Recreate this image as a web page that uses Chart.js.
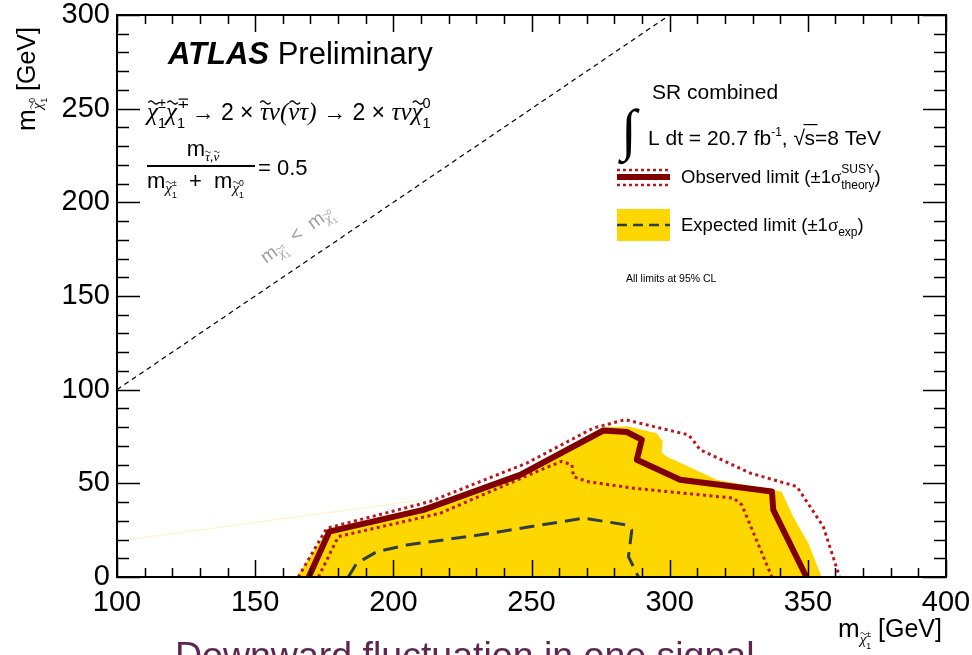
<!DOCTYPE html>
<html>
<head>
<meta charset="utf-8">
<script src="https://cdn.jsdelivr.net/npm/chart.js@4.4.0/dist/chart.umd.min.js"></script>
<style>
  html, body { margin: 0; padding: 0; background: #fff; }
  #wrap { width: 972px; height: 655px; }
</style>
</head>
<body>
<div id="wrap"><canvas id="myChart" width="972" height="655"></canvas></div>
<script>
// tick labels
const xTicks = [100, 150, 200, 250, 300, 350, 400];
const yTicks = [0, 50, 100, 150, 200, 250, 300];

// expected limit +-1 sigma band (upper edge, closes on y=0)
const bandX = [165, 176.5, 211, 246, 276, 285, 295.3, 297.5, 297.1, 298.9, 317, 340.5, 344.7, 350.2, 355];
const bandY = [0, 25.5, 37.5, 56, 80, 80.4, 76.8, 72.4, 66.5, 64.3, 51.9, 45.6, 32.2, 18, 0];

// faint band edge on the left
const faintX = [104.7, 211];
const faintY = [20.1, 41.2];

// expected limit
const expX = [183.7, 186.7, 194.0, 204.8, 231.4, 268.8, 284.5, 286.3, 285.1, 288.7];
const expY = [0, 7.3, 13.5, 17.1, 22.5, 31.4, 27.8, 25.1, 10.9, 0];

// observed limit and theory +-1 sigma
const obsX = [169.4, 176.8, 210.9, 245.9, 276.0, 284.5, 289.9, 288.1, 303.8, 337.0, 337.5, 349.5];
const obsY = [0, 24.2, 35.8, 54.5, 78.2, 77.4, 73.3, 62.6, 51.9, 45.6, 35.8, 0];
const obsUpX = [165.6, 175.9, 213.3, 248.3, 272.4, 283.9, 296.5, 306.8, 309.2, 311.0, 329.1, 346.0, 355.6, 361.5];
const obsUpY = [0, 26, 40.3, 60.8, 79.5, 84, 79.5, 75.9, 71.5, 67.9, 55.5, 48.3, 26.9, 0];
const obsDnX = [172.9, 180.1, 216.9, 251.9, 260.9, 264.6, 265.2, 270.0, 286.9, 323.1, 326.1, 337.0];
const obsDnY = [0, 21.6, 34.0, 56.3, 61.7, 59.9, 53.6, 51.0, 47.4, 42.1, 38.5, 0];

// kinematic limit
const diagX = [100, 300];
const diagY = [100, 300];

const pts = (xs, ys) => xs.map((x, i) => ({ x: x, y: ys[i] }));

const SANS = '"Liberation Sans", Arial, sans-serif';
const SERIF = '"Liberation Serif", "DejaVu Serif", serif';

function tilde(ctx, cx, y, s) {
  const w = s * 0.42, h = s * 0.06;
  ctx.save();
  ctx.strokeStyle = ctx.fillStyle;
  ctx.lineWidth = Math.max(0.9, s * 0.055);
  ctx.beginPath();
  for (let i = 0; i <= 12; i++) {
    const t = i / 12;
    const px = cx - w / 2 + t * w, py = y - h * Math.sin(t * 2 * Math.PI);
    if (i === 0) ctx.moveTo(px, py); else ctx.lineTo(px, py);
  }
  ctx.stroke();
  ctx.restore();
}

// parts: [text, size, dy, family, noAdvance, style, tilde]
function rich(ctx, x, y, parts, align) {
  const fnt = p => (p[5] || '') + ' ' + p[1] + 'px ' + (p[3] || SANS);
  let w = 0;
  parts.forEach(p => { ctx.font = fnt(p); if (!p[4]) w += ctx.measureText(p[0]).width; });
  let cx = align === 'center' ? x - w / 2 : x;
  parts.forEach(p => {
    ctx.font = fnt(p);
    const tw = ctx.measureText(p[0]).width;
    ctx.fillText(p[0], cx, y + (p[2] || 0));
    if (p[6]) tilde(ctx, cx + tw / 2 + p[1] * 0.04, y + (p[2] || 0) - p[1] * 0.7, p[1]);
    if (!p[4]) cx += tw;
  });
  return w;
}

// chi with tilde, sup and sub
const chi = (size, sup, sub, dy) => [
  ['χ', size, dy, SERIF, false, 'italic', true],
  [sup, size * 0.58, dy - size * 0.5, SANS, true],
  [sub, size * 0.58, dy + size * 0.3]
];

const frame = {
  id: 'frame',
  afterDatasetsDraw(chart) {
    const ctx = chart.ctx, a = chart.chartArea;
    const xs = chart.scales.x, ys = chart.scales.y;
    ctx.save();
    ctx.strokeStyle = '#000';
    ctx.lineWidth = 1.5;
    ctx.beginPath();
    for (let v = 100; v <= 400; v += 10) {
      const px = Math.round(xs.getPixelForValue(v)) + 0.5;
      const L = v % 50 === 0 ? 17 : 9;
      ctx.moveTo(px, a.bottom); ctx.lineTo(px, a.bottom - L);
      ctx.moveTo(px, a.top); ctx.lineTo(px, a.top + L);
    }
    for (let v = 0; v <= 300; v += 10) {
      const py = Math.round(ys.getPixelForValue(v)) + 0.5;
      const L = v % 50 === 0 ? 23 : 12;
      ctx.moveTo(a.left, py); ctx.lineTo(a.left + L, py);
      ctx.moveTo(a.right, py); ctx.lineTo(a.right - L, py);
    }
    ctx.stroke();
    ctx.lineWidth = 2;
    ctx.strokeRect(a.left, a.top, a.right - a.left, a.bottom - a.top);
    ctx.restore();
  },
  afterDraw(chart) {
    const ctx = chart.ctx;
    ctx.save();
    ctx.fillStyle = '#000';
    ctx.textBaseline = 'alphabetic';

    // ATLAS label
    rich(ctx, 168, 64, [['ATLAS', 31, 0, SANS, false, 'italic bold'], [' Preliminary', 31]]);

    // process
    rich(ctx, 147, 120, [].concat(
      chi(25, '±', '1', 0), chi(25, '∓', '1', 0),
      [[' → 2 × ', 23], ['τ', 25, 0, SERIF, false, 'italic', true], ['ν(', 25, 0, SERIF, false, 'italic'],
       ['ν', 25, 0, SERIF, false, 'italic', true], ['τ)', 25, 0, SERIF, false, 'italic'], [' → 2 × ', 23],
       ['τν', 25, 0, SERIF, false, 'italic']],
      chi(25, '0', '1', 0)
    ));

    // mass ratio
    rich(ctx, 203, 156, [['m', 22], ['τ', 13, 5, SERIF, false, 'italic', true], [',', 13, 5], ['ν', 13, 5, SERIF, false, 'italic', true]], 'center');
    ctx.fillRect(147, 165, 108, 2);
    rich(ctx, 147, 188, [].concat([['m', 22]], chi(15, '±', '1', 5), [['  +  m', 22]], chi(15, '0', '1', 5)));
    rich(ctx, 258, 175, [['= 0.5', 22]]);

    // kinematic label
    ctx.save();
    ctx.translate(266, 264);
    ctx.rotate(-36 * Math.PI / 180);
    ctx.fillStyle = '#a0a0a0';
    rich(ctx, 0, 0, [].concat([['m', 19]], chi(13, '±', '1', 4), [['  <  m', 19]], chi(13, '0', '1', 4)));
    ctx.restore();

    // legend block
    rich(ctx, 652, 99, [['SR combined', 21]]);
    rich(ctx, 621, 149, [['∫', 57, 0, SERIF]]);
    let w = rich(ctx, 648, 145, [['L dt = 20.7 fb', 21], ['-1', 12, -9], [', ', 21]]);
    const sx = 648 + w;
    rich(ctx, sx, 145, [['√', 21]]);
    ctx.fillRect(sx + 10, 124, 14, 1.2);
    rich(ctx, sx + 11, 145, [['s=8 TeV', 21]]);

    // observed symbol
    ctx.lineCap = 'butt';
    ctx.strokeStyle = '#800000'; ctx.lineWidth = 6;
    ctx.beginPath(); ctx.moveTo(617, 177); ctx.lineTo(670, 177); ctx.stroke();
    ctx.strokeStyle = '#c0141c'; ctx.lineWidth = 2.5; ctx.setLineDash([3, 3]);
    ctx.beginPath(); ctx.moveTo(617, 170); ctx.lineTo(670, 170); ctx.moveTo(617, 185); ctx.lineTo(670, 185); ctx.stroke();
    ctx.setLineDash([]);
    ctx.fillStyle = '#000';
    rich(ctx, 681, 183, [['Observed limit (±1', 18.5], ['σ', 19, 0, SERIF], ['SUSY', 12, -10, SANS, true], ['theory', 12, 6], [')', 18.5]]);

    // expected symbol
    ctx.fillStyle = '#ffd700';
    ctx.fillRect(617, 209, 53, 32);
    ctx.strokeStyle = '#2f3d44'; ctx.lineWidth = 2.5; ctx.setLineDash([10, 6]);
    ctx.beginPath(); ctx.moveTo(617, 225); ctx.lineTo(670, 225); ctx.stroke();
    ctx.setLineDash([]);
    ctx.fillStyle = '#000';
    rich(ctx, 681, 231, [['Expected limit (±1', 18.5], ['σ', 19, 0, SERIF], ['exp', 12, 5], [')', 18.5]]);

    rich(ctx, 626, 282, [['All limits at 95% CL', 10.5]]);

    // axis titles
    rich(ctx, 838, 637, [].concat([['m', 26]], chi(15, '±', '1', 7), [[' [GeV]', 25]]));
    ctx.save();
    ctx.translate(35, 131);
    ctx.rotate(-Math.PI / 2);
    rich(ctx, 0, 0, [].concat([['m', 26]], chi(15, '0', '1', 7), [[' [GeV]', 25]]));
    ctx.restore();

    // caption
    ctx.fillStyle = '#5e2750';
    rich(ctx, 175, 668, [['Downward fluctuation in one signal', 37.5]]);
    ctx.restore();
  }
};

const line = (data, color, width, dash, order) => ({
  data: data, showLine: true, pointRadius: 0, fill: false,
  borderColor: color, borderWidth: width, borderDash: dash, borderCapStyle: 'butt',
  borderJoinStyle: 'round', tension: 0, order: order
});

new Chart(document.getElementById('myChart'), {
  type: 'scatter',
  data: {
    datasets: [
      Object.assign(line(pts(bandX, bandY), 'rgba(0,0,0,0)', 0, [], 10), { fill: 'shape', backgroundColor: '#ffd700' }),
      line(pts(faintX, faintY), '#fff2bf', 1, [], 9),
      line(pts(diagX, diagY), '#000', 1.2, [5, 4], 8),
      line(pts(expX, expY), '#2f3d44', 3, [15, 8], 7),
      line(pts(obsUpX, obsUpY), '#c0141c', 3, [3, 3.5], 6),
      line(pts(obsDnX, obsDnY), '#c0141c', 3, [3, 3.5], 5),
      line(pts(obsX, obsY), '#800000', 6, [], 4)
    ]
  },
  options: {
    responsive: false,
    animation: false,
    layout: { padding: { left: 40, right: 26, top: 15, bottom: 0 } },
    plugins: { legend: { display: false }, tooltip: { enabled: false } },
    scales: {
      x: {
        type: 'linear', min: 100, max: 400,
        afterBuildTicks: s => { s.ticks = xTicks.map(v => ({ value: v })); },
        afterFit: s => { s.height = 78; s.paddingLeft = 0; s.paddingRight = 0; },
        grid: { display: false, drawTicks: false },
        border: { display: false },
        ticks: { autoSkip: false, maxRotation: 0, padding: 9, color: '#000', font: { family: SANS, size: 29 } }
      },
      y: {
        type: 'linear', min: 0, max: 300,
        afterBuildTicks: s => { s.ticks = yTicks.map(v => ({ value: v })); },
        afterFit: s => { s.width = 77; s.paddingTop = 0; s.paddingBottom = 0; },
        grid: { display: false, drawTicks: false },
        border: { display: false },
        ticks: { autoSkip: false, padding: 7, color: '#000', font: { family: SANS, size: 29 } }
      }
    }
  },
  plugins: [frame]
});
</script>
</body>
</html>
